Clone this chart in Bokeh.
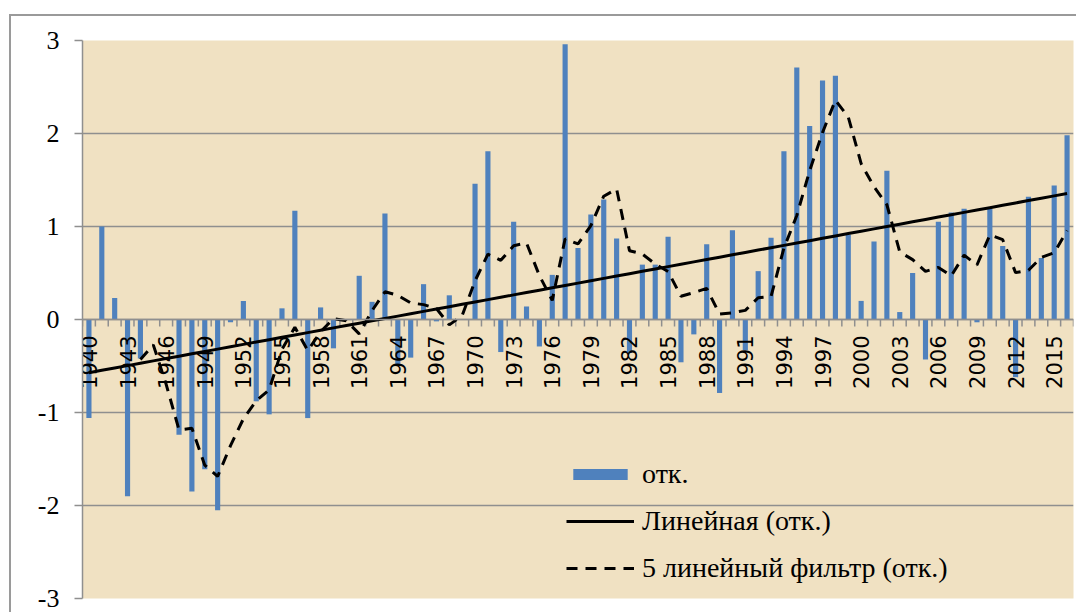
import numpy as np
from bokeh.plotting import figure
from bokeh.models import Range1d, FixedTicker, Span, Legend, LegendItem, ColumnDataSource
from bokeh.core.properties import value
from bokeh.embed import file_html
from bokeh.resources import INLINE

# ---- data ----
years = list(range(1940, 2017))
anomaly = [
    -1.06, 1.00, 0.23, -1.90, -0.42, np.nan, np.nan, -1.24, -1.85, -1.61,   # 1940-1949
    -2.05, -0.03, 0.20, -0.88, -1.02, 0.12, 1.17, -1.06, 0.13, -0.31,       # 1950-1959
    0.00, 0.47, 0.19, 1.14, -0.50, -0.41, 0.38, -0.02, 0.26, 0.00,          # 1960-1969
    1.46, 1.81, -0.35, 1.05, 0.14, -0.29, 0.48, 2.96, 0.77, 1.13,           # 1970-1979
    1.29, 0.87, -0.36, 0.59, 0.59, 0.89, -0.46, -0.16, 0.81, -0.79,         # 1980-1989
    0.96, -0.33, 0.52, 0.88, 1.81, 2.71, 2.08, 2.57, 2.62, 0.91,            # 1990-1999
    0.20, 0.84, 1.60, 0.08, 0.50, -0.43, 1.05, 1.15, 1.19, -0.03,           # 2000-2009
    1.19, 0.79, -0.62, 1.32, 0.66, 1.44, 1.98,                              # 2010-2016
]
tick_years = years[::3]
tick_labels = [str(y) for y in tick_years]
y_ticks = [-3, -2, -1, 0, 1, 2, 3]
y_tick_labels = ["-3", "-2", "-1", "0", "1", "2", "3"]
legend_labels = ["отк.", "Линейная (отк.)", "5 линейный фильтр (отк.)"]

# ---- derived series (as the spreadsheet trendlines compute them) ----
yrs = np.array(years, dtype=float)
vals = np.array(anomaly, dtype=float)
ok = ~np.isnan(vals)
slope, icpt = np.polyfit(yrs[ok], vals[ok], 1)
trend = slope * yrs + icpt
ma = []
for i in range(len(vals)):
    if i < 4:
        ma.append(np.nan)
    else:
        w = vals[i - 4:i + 1]
        w = w[~np.isnan(w)]
        ma.append(w.mean() if len(w) else np.nan)
ma = np.array(ma)

BG = "#F0E1C2"
GRID = "#8f8f8f"

p = figure(width=1076, height=612, output_backend="svg", toolbar_location=None,
           x_range=Range1d(years[0] - 0.5, years[-1] + 0.5), y_range=Range1d(-3, 3),
           min_border_left=82, min_border_right=3, min_border_top=40, min_border_bottom=14)
p.background_fill_color = BG
p.border_fill_color = None
p.outline_line_color = None
p.styles = {
    "background": "linear-gradient(#9a9a9a,#9a9a9a) 9px 14px / 2px 100% no-repeat, "
                  "linear-gradient(#9a9a9a,#9a9a9a) 9px 14px / 100% 2px no-repeat, white"
}

p.xaxis.visible = False
p.xgrid.visible = False
p.yaxis.ticker = FixedTicker(ticks=y_ticks)
p.ygrid.ticker = FixedTicker(ticks=y_ticks)
p.ygrid.grid_line_color = GRID
p.ygrid.grid_line_width = 1.5
yax = p.yaxis[0]
yax.major_label_overrides = dict(zip(y_ticks, y_tick_labels))
yax.axis_line_color = GRID
yax.axis_line_width = 1.5
yax.major_tick_line_color = GRID
yax.major_tick_line_width = 1.5
yax.major_tick_out = 8
yax.major_tick_in = 0
yax.minor_tick_line_color = None
yax.major_label_standoff = 15
yax.major_label_text_font = "Liberation Serif"
yax.major_label_text_font_size = "26px"
yax.major_label_text_color = "black"

# bars
src = ColumnDataSource(dict(x=years, top=anomaly))
bars = p.vbar(x="x", top="top", bottom=0, width=0.4, source=src,
              fill_color="#4F81BD", line_color=None)

# zero axis line + ticks
p.add_layout(Span(location=0, dimension="width", line_color=GRID, line_width=1.5))
bounds = [y - 0.5 for y in years] + [years[-1] + 0.5]
p.ray(x=bounds, y=[0] * len(bounds), length=7, length_units="screen",
      angle=-np.pi / 2, line_color=GRID, line_width=1.5)

# category labels
p.text(x=tick_years, y=[0] * len(tick_years), text=tick_labels, angle=np.pi / 2,
       text_align="right", text_baseline="middle", y_offset=16,
       text_font=value("DejaVu Sans"), text_font_size="21px", text_color="black")

trend_r = p.line(yrs, trend, line_color="black", line_width=3)
ma_r = p.line(yrs, ma, line_color="black", line_width=3, line_dash="11 8")

legend = Legend(items=[LegendItem(label=legend_labels[0], renderers=[bars]),
                       LegendItem(label=legend_labels[1], renderers=[trend_r]),
                       LegendItem(label=legend_labels[2], renderers=[ma_r])],
                location=(484, 14))
legend.background_fill_alpha = 0
legend.border_line_color = None
legend.margin = 0
legend.padding = 0
legend.glyph_width = 68
legend.glyph_height = 14
legend.label_standoff = 8
legend.spacing = 15
legend.label_text_font = "Liberation Serif"
legend.label_text_font_size = "28px"
legend.label_text_color = "black"
p.add_layout(legend)

open("out.html", "w").write(file_html(p, INLINE))
